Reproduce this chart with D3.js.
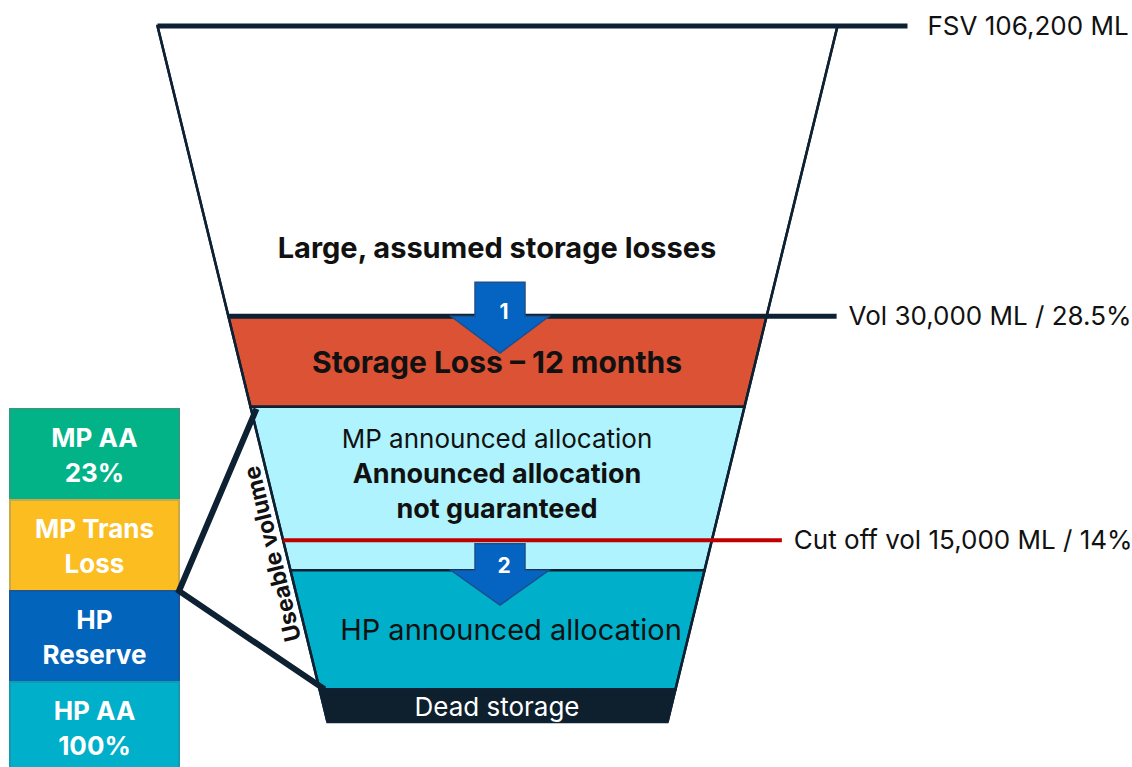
<!DOCTYPE html>
<html>
<head>
  <meta charset="utf-8">
  <title>Storage funnel</title>
  <style>
    body { margin: 0; background: #fff; }
    svg { display: block; font-family: Inter, "Noto Sans", sans-serif; }
    .edge { fill: none; stroke: #0d2133; stroke-width: 2.5px; }
    .label { fill: #111; }
    .bold { font-weight: 700; }
  </style>
</head>
<body>
  <svg id="chart"></svg>

  <script src="https://cdn.jsdelivr.net/npm/d3@7"></script>
  <script>
    // funnel layers, depth in % of funnel height (schematic)
    const layerNames = ["Large, assumed storage losses", "Storage Loss – 12 months", "MP announced allocation", "HP announced allocation", "Dead storage"];
    const layerTop = [0, 41.7, 54.7, 78.2, 95.3];
    const layerBottom = [41.7, 54.7, 78.2, 95.3, 100];
    const layerColors = ["#ffffff", "#dc5234", "#aef3fd", "#00afc9", "#0e1f2e"];

    // reference levels on the right
    const markerLabels = ["FSV 106,200 ML", "Vol 30,000 ML / 28.5%", "Cut off vol 15,000 ML / 14%"];
    const markerDepth = [0, 41.7, 73.9];
    const markerColors = ["#0d2133", "#0d2133", "#c00000"];

    // step arrows
    const arrowLabels = ["1", "2"];
    const arrowStart = [36.8, 74.4];
    const arrowHead = [41.7, 78.2];
    const arrowTip = [47.0, 83.2];

    // allocation blocks on the left
    const blockLabels = [["MP AA", "23%"], ["MP Trans", "Loss"], ["HP", "Reserve"], ["HP AA", "100%"]];
    const blockColors = ["#02b388", "#fbbd1f", "#0364bc", "#00afc9"];
    const blockStroke = ["#2a9f7f", "#c9a84a", "#1657a0", "#1799ad"];

    const width = 1132, height = 767;
    const svg = d3.select("#chart").attr("width", width).attr("height", height);

    const y = d3.scaleLinear().domain([0, 100]).range([26, 722]);
    const half = d3.scaleLinear().domain([0, 100]).range([340, 170]);
    const cx = 497.5;
    const xl = d => cx - half(d);
    const xr = d => cx + half(d);

    // layers
    const layers = layerNames.map((name, i) => ({ name, top: layerTop[i], bottom: layerBottom[i], color: layerColors[i] }));
    svg.selectAll(".layer")
      .data(layers)
      .enter()
      .append("path")
      .attr("class", "layer")
      .attr("d", d => `M${xl(d.top)},${y(d.top)}L${xr(d.top)},${y(d.top)}L${xr(d.bottom)},${y(d.bottom)}L${xl(d.bottom)},${y(d.bottom)}Z`)
      .attr("fill", d => d.color)
      .attr("stroke", "#0d2133")
      .attr("stroke-width", 2.5);

    // funnel sides
    svg.append("path").attr("class", "edge")
      .attr("d", `M${xl(0)},${y(0)}L${xl(100)},${y(100)}M${xr(0)},${y(0)}L${xr(100)},${y(100)}`);

    // marker lines + labels
    const markers = markerLabels.map((label, i) => ({ label, depth: markerDepth[i], color: markerColors[i] }));
    svg.selectAll(".marker")
      .data(markers)
      .enter()
      .append("line")
      .attr("class", "marker")
      .attr("x1", d => xl(d.depth))
      .attr("x2", d => xr(d.depth) + 70)
      .attr("y1", d => y(d.depth))
      .attr("y2", d => y(d.depth))
      .attr("stroke", d => d.color)
      .attr("stroke-width", (d, i) => i === 2 ? 4 : 5);

    svg.selectAll(".marker-label")
      .data(markers)
      .enter()
      .append("text")
      .attr("class", "label")
      .attr("x", (d, i) => xr(d.depth) + 70 + (i === 0 ? 20 : 12))
      .attr("y", d => y(d.depth))
      .attr("dy", "0.35em")
      .attr("font-size", 26)
      .text(d => d.label);

    // arrows
    const arrows = arrowLabels.map((label, i) => ({ label, start: arrowStart[i], head: arrowHead[i], tip: arrowTip[i] }));
    const ax = 500, shaftW = 25, headW = 49;
    const arrow = svg.selectAll(".arrow").data(arrows).enter().append("g").attr("class", "arrow");
    arrow.append("path")
      .attr("d", d => `M${ax - shaftW},${y(d.start)}L${ax + shaftW},${y(d.start)}L${ax + shaftW},${y(d.head)}L${ax + headW},${y(d.head)}L${ax},${y(d.tip)}L${ax - headW},${y(d.head)}L${ax - shaftW},${y(d.head)}Z`)
      .attr("fill", "#0563c1")
      .attr("stroke", "#1c4f8c")
      .attr("stroke-width", 1.5);
    arrow.append("text")
      .attr("x", ax + 4)
      .attr("y", d => y(d.head) + 3)
      .attr("text-anchor", "middle")
      .attr("class", "bold")
      .attr("fill", "#fff")
      .attr("font-size", 21)
      .text(d => d.label);

    // text inside the funnel
    const funnelText = [
      { text: layerNames[0], depth: 33.3, bold: true, size: 29 },
      { text: layerNames[1], depth: 49.9, bold: true, size: 30 },
      { text: layerNames[2], depth: 60.6, bold: false, size: 26 },
      { text: "Announced allocation", depth: 65.7, bold: true, size: 27 },
      { text: "not guaranteed", depth: 70.7, bold: true, size: 27 },
      { text: layerNames[3], depth: 88.2, bold: false, size: 29 },
      { text: layerNames[4], depth: 99.1, bold: false, size: 26, fill: "#fff" }
    ];
    svg.selectAll(".ftext")
      .data(funnelText)
      .enter()
      .append("text")
      .attr("class", d => d.bold ? "ftext bold" : "ftext")
      .attr("x", (d, i) => i === 5 ? 511 : 497)
      .attr("y", d => y(d.depth))
      .attr("text-anchor", "middle")
      .attr("font-size", d => d.size)
      .attr("fill", d => d.fill || "#111")
      .text(d => d.text);

    // left blocks
    const yb = d3.scaleBand().domain(blockLabels.map(d => d.join(" "))).range([409, 773]);
    const block = svg.selectAll(".block")
      .data(blockLabels)
      .enter()
      .append("g")
      .attr("class", "block")
      .attr("transform", d => `translate(10,${yb(d.join(" "))})`);
    block.append("rect")
      .attr("width", 169)
      .attr("height", yb.bandwidth())
      .attr("fill", (d, i) => blockColors[i])
      .attr("stroke", (d, i) => blockStroke[i])
      .attr("stroke-width", 2);
    block.selectAll("text")
      .data(d => d)
      .enter()
      .append("text")
      .attr("class", "bold")
      .attr("x", 84.5)
      .attr("y", (d, i) => yb.bandwidth() / 2 + (i === 0 ? -17 : 18))
      .attr("dy", "0.35em")
      .attr("text-anchor", "middle")
      .attr("fill", "#fff")
      .attr("font-size", 26)
      .text(d => d);

    // bracket from HP Reserve edge to useable volume
    const joint = yb(blockLabels[2].join(" "));
    svg.append("path")
      .attr("d", `M${xl(layerTop[2]) + 6},${y(layerTop[2]) + 2}L179,${joint}L${xl(layerTop[4]) + 5},${y(layerTop[4])}`)
      .attr("fill", "none")
      .attr("stroke", "#0d2133")
      .attr("stroke-width", 6)
      .attr("stroke-linejoin", "miter");

    // useable volume label along the left edge
    const ud = (layerTop[2] + layerTop[4]) / 2;
    const ang = -90 - Math.atan(170 / 696) * 180 / Math.PI;
    svg.append("text")
      .attr("class", "bold")
      .attr("transform", `translate(${xl(ud) - 5},${y(ud) + 4}) rotate(${ang})`)
      .attr("text-anchor", "middle")
      .attr("font-size", 23)
      .attr("fill", "#111")
      .text("Useable volume");
  </script>
</body>
</html>
